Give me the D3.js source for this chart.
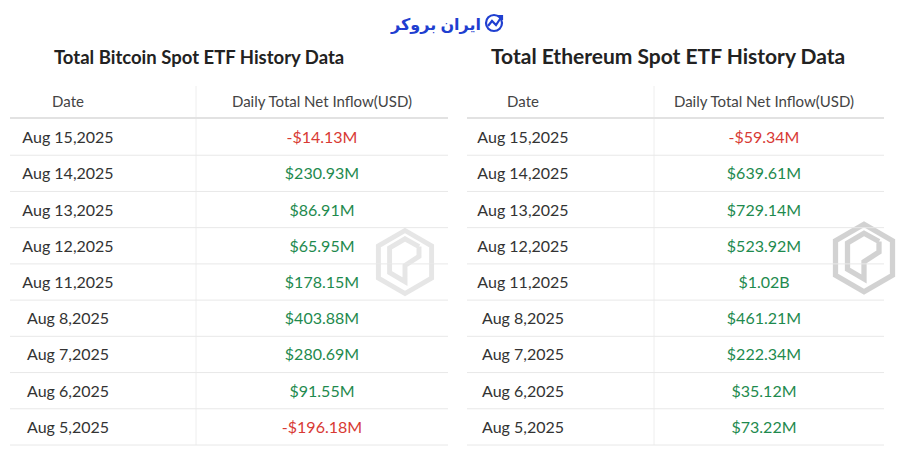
<!DOCTYPE html><html><head><meta charset="utf-8"><script src="https://cdn.jsdelivr.net/npm/d3@7"></script>
<style>body{margin:0;background:#fff}</style></head><body><svg id="c" width="900" height="471"></svg>
<script>
const dates=["Aug 15,2025","Aug 14,2025","Aug 13,2025","Aug 12,2025","Aug 11,2025","Aug 8,2025","Aug 7,2025","Aug 6,2025","Aug 5,2025"];
const btcValues=["-$14.13M","$230.93M","$86.91M","$65.95M","$178.15M","$403.88M","$280.69M","$91.55M","-$196.18M"];
const ethValues=["-$59.34M","$639.61M","$729.14M","$523.92M","$1.02B","$461.21M","$222.34M","$35.12M","$73.22M"];
const headers=["Date","Daily Total Net Inflow(USD)"];
const svg=d3.select("#c");
const y=d3.scaleBand().domain(dates).range([119,445]);
function wm(cx,cy,s,op){
  const g=svg.append("g").attr("transform",`translate(${cx},${cy}) scale(${s})`).attr("fill","none").attr("stroke","#c8c8c8").attr("stroke-width",7).attr("opacity",op);
  g.append("path").attr("d","M0,-45 L38,-23 L38,23 L0,45 L-38,23 L-38,-23 Z");
  g.append("path").attr("d","M20,-22 L0,-33 L-22,-20 L-22,15 L0,28 L0,5 L20,-8 L20,-22");
}
function table(x0,x1,xd,dateX,valX,title,tsize,tx,vals){
  svg.append("text").attr("x",tx).attr("y",64).attr("font-family","Lato").attr("font-weight",700).attr("font-size",tsize).attr("fill","#222").text(title);
  svg.append("line").attr("x1",xd).attr("x2",xd).attr("y1",86).attr("y2",445).attr("stroke","#eee");
  svg.append("text").attr("x",dateX).attr("y",107).attr("text-anchor","middle").attr("font-family","Lato").attr("font-size",15).attr("fill","#444").text(headers[0]);
  svg.append("text").attr("x",valX).attr("y",107).attr("text-anchor","middle").attr("font-family","Lato").attr("font-size",15).attr("fill","#444").text(headers[1]);
  svg.append("line").attr("x1",x0).attr("x2",x1).attr("y1",118).attr("y2",118).attr("stroke","#e2e2e2").attr("stroke-width",2);
  dates.forEach((d,i)=>{
    const yy=y(d);
    svg.append("line").attr("x1",x0).attr("x2",x1).attr("y1",yy+y.bandwidth()).attr("y2",yy+y.bandwidth()).attr("stroke","#e8e8e8");
    svg.append("text").attr("x",dateX).attr("y",yy+y.bandwidth()/2+6).attr("text-anchor","middle").attr("font-family","Lato").attr("font-size",16).attr("fill","#333").text(d);
    svg.append("text").attr("x",valX).attr("y",yy+y.bandwidth()/2+6).attr("text-anchor","middle").attr("font-family","Lato").attr("font-size",16).attr("fill",vals[i].startsWith("-")?"#d83a34":"#1e8a4e").text(vals[i]);
  });
}
wm(405,262,0.7,0.45); wm(864,258,0.75,0.8);
table(10,448,196,68,322,"Total Bitcoin Spot ETF History Data",18.5,54,btcValues);
table(467,884,654,523,764,"Total Ethereum Spot ETF History Data",21,491,ethValues);
svg.append("text").attr("x",481).attr("y",30).attr("text-anchor","end").attr("font-family","Noto Sans, DejaVu Sans").attr("font-weight",700).attr("font-size",16).attr("fill","#1f3fd0").text("ایران بروکر");
const lg=svg.append("g").attr("transform","translate(494,23)").attr("fill","none").attr("stroke","#1f3fd0").attr("stroke-width",2.2);
lg.append("circle").attr("r",8);
lg.append("path").attr("d","M-6,3 L-2,-2 L2,2 L8,-7 M4,-7 L8,-7 L8,-3");
</script></body></html>
